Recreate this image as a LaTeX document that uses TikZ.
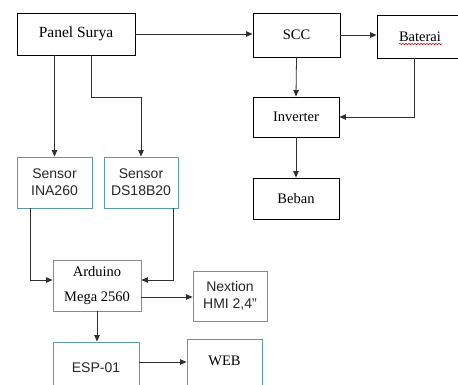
\documentclass[tikz,border=0pt]{standalone}
\usepackage{fontspec}
\setmainfont{Liberation Serif}
\setsansfont{Liberation Sans}
\usetikzlibrary{arrows.meta,calc,decorations.pathmorphing}
\definecolor{teal1}{HTML}{5C9AA6}
\definecolor{grayb}{HTML}{8A8A8A}
\definecolor{lin}{HTML}{303030}
\begin{document}
\begin{tikzpicture}[x=1pt,y=-1pt,
  box/.style={draw=black,line width=0.9pt,inner sep=0pt,
    font=\fontsize{14.5}{17}\selectfont},
  sbox/.style={draw=teal1,line width=0.9pt,inner sep=0pt,align=center,
    text=black!85,font=\sffamily\fontsize{14}{17}\selectfont},
  abox/.style={draw=grayb,line width=0.8pt,inner sep=0pt,align=center,
    font=\fontsize{14.5}{25}\selectfont},
  conn/.style={draw=lin,line width=0.8pt},
  arr/.style={conn,-{Triangle[length=6.5pt,width=5.5pt]}}]
\path[use as bounding box] (0,0) rectangle (458,385);
\clip (0,0) rectangle (458,385);
\node[box,minimum width=118pt,minimum height=42pt] (ps) at (76,34) {\fontsize{15.5}{17}\selectfont Panel Surya};
\node[box,minimum width=87pt,minimum height=44pt] (scc) at (296.5,35) {SCC};
\node[box,minimum width=86pt,minimum height=43pt] (bat) at (420,36.5) {Baterai};
\node[box,minimum width=86pt,minimum height=40pt] (inv) at (296,117) {Inverter};
\node[box,minimum width=86pt,minimum height=41pt] (beb) at (296,198.5) {Beban};
\node[sbox,minimum width=75pt,minimum height=51pt] (ina) at (54.5,182.5) {Sensor\\INA260};
\node[sbox,minimum width=74pt,minimum height=51pt] (ds) at (141,182.5) {Sensor\\DS18B20};
\node[abox,minimum width=88pt,minimum height=51pt] (ard) at (97,285.5) {Arduino\\Mega 2560};
\node[sbox,minimum width=74pt,minimum height=50pt] (nex) at (230,296) {Nextion\\HMI 2,4''};
\node[sbox,minimum width=86pt,minimum height=52pt] (esp) at (96,368) {ESP-01};
\node[sbox,minimum width=75pt,minimum height=58pt,
  label={[font=\fontsize{14.5}{17}\selectfont,yshift=7pt]center:WEB}] (web) at (224.5,368) {};
% red spellcheck squiggle
\draw[red!80!black,line width=0.5pt,decorate,decoration={snake,amplitude=0.8pt,segment length=3pt}]
  (399,44) -- (442,44);
% connectors
\draw[arr] (ps.east) -- (scc.west |- ps.east);
\draw[arr] (scc.east) -- (bat.west |- scc.east);
\draw[arr] (scc.south) -- (inv.north);
\draw[arr] ($(bat.south)+(-6,0)$) |- (inv.east);
\draw[arr] (inv.south) -- (beb.north);
\draw[arr] (ps.south -| ina.north) -- (ina.north);
\draw[arr] ($(ps.south)+(15,0)$) -- ++(0,42) -| (ds.north);
\draw[arr] ($(ina.south)+(-24.5,0)$) |- ($(ard.west)+(0,-5.5)$);
\draw[arr] ($(ds.south)+(32,0)$) |- ($(ard.east)+(0,-5.5)$);
\draw[arr] ($(ard.east)+(0,11.5)$) -- (nex.west |- {$(ard.east)+(0,11.5)$});
\draw[arr] (ard.south) -- (esp.north -| ard.south);
\draw[arr] ($(esp.east)+(0,-6)$) -- (web.west |- {$(esp.east)+(0,-6)$});
\end{tikzpicture}
\end{document}
